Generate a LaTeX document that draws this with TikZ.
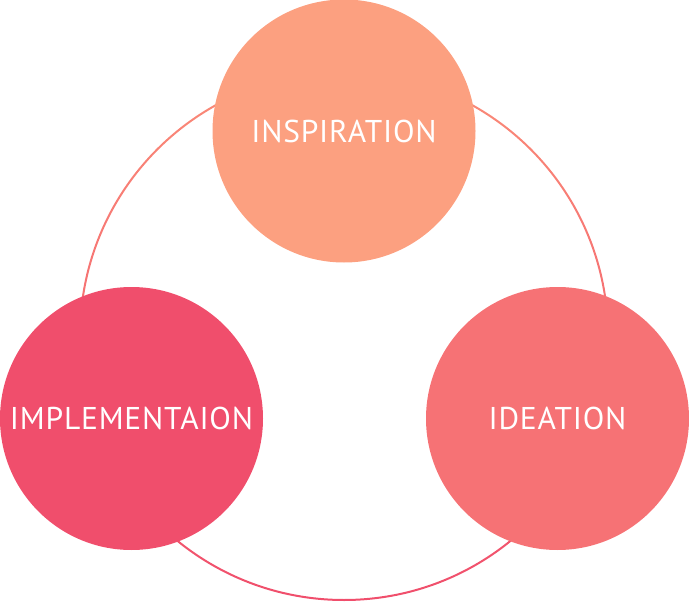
\documentclass[tikz,border=0pt]{standalone}
\usepackage{fontspec}
\setmainfont{PT Sans}[LetterSpace=2.5]
\definecolor{topc}{RGB}{252,160,128}
\definecolor{rightc}{RGB}{246,114,117}
\definecolor{leftc}{RGB}{240,78,108}
\definecolor{ringtop}{RGB}{250,140,120}
\definecolor{ringbot}{RGB}{240,78,108}
\tikzset{
  bubble/.style={circle, minimum size=263pt, inner sep=0pt, text=white,
    font=\fontsize{31.5}{31.5}\selectfont},
}
\begin{document}
\begin{tikzpicture}[x=1pt,y=-1pt]
\useasboundingbox (0,0) rectangle (689,602);
\coordinate (ringc) at (344,336);
\shade[top color=ringtop, bottom color=ringbot, even odd rule]
  (ringc) circle[radius=265] (ringc) circle[radius=263];
\node[bubble, fill=topc] (insp) at (344,131) {INSPIRATION};
\node[bubble, fill=leftc] (impl) at (131.5,418.5) {IMPLEMENTAION};
\node[bubble, fill=rightc] (idea) at (557.5,418.5) {IDEATION};
\end{tikzpicture}
\end{document}
